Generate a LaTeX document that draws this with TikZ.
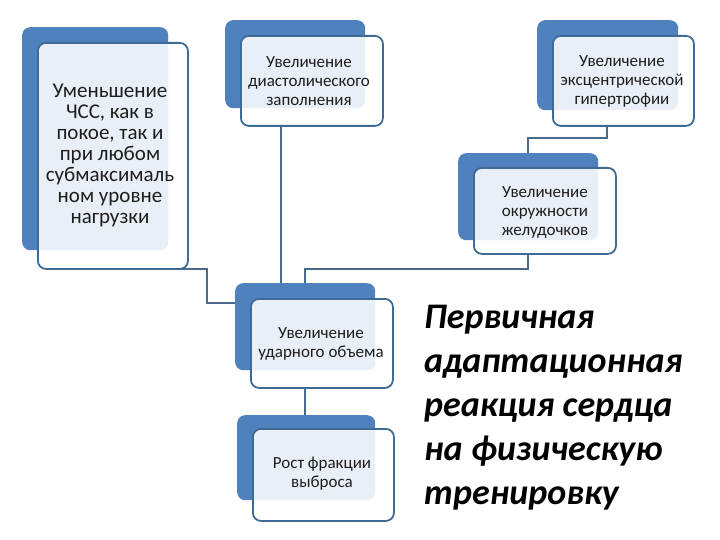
\documentclass[tikz,border=0pt]{standalone}
\usepackage{fontspec}
\setmainfont{Carlito}
\definecolor{backblue}{HTML}{4F81BD}
\definecolor{edgeblue}{HTML}{3F6A96}
\definecolor{linecol}{HTML}{4A6A8A}
\definecolor{txt}{HTML}{1E1E1E}
\tikzset{
  backbox/.style={fill=backblue, draw=none, rounded corners=8pt, anchor=north west, inner sep=0pt},
  frontbox/.style={fill=white, fill opacity=0.88, draw=edgeblue, draw opacity=1, line width=1.8pt, rounded corners=8pt, anchor=north west, inner sep=0pt},
  boxtext/.style={text=txt, align=center, inner sep=0pt, font=\fontsize{17}{19}\selectfont},
  conn/.style={draw=linecol, line width=1.6pt}
}
\begin{document}
\begin{tikzpicture}[x=1pt, y=-1pt]
\useasboundingbox (0,0) rectangle (720,540);
% connector end points
\coordinate (c1a) at (167,269);
% connectors (behind boxes)
\draw[conn] (281,125) -- (281,283);
\draw[conn] (607,125) -- (607,138) -- (528,138) -- (528,153);
\draw[conn] (528,253) -- (528,269) -- (305,269) -- (305,283);
\draw[conn] (305,387) -- (305,415);
\draw[conn] (c1a) -- (207,269) -- (207,303) -- (235,303);
% box 1
\node[backbox, minimum width=146pt, minimum height=223pt] (k1) at (22,27) {};
\node[frontbox, minimum width=150pt, minimum height=226pt] (f1) at (37,42) {};
\node[boxtext, font=\fontsize{21}{21}\selectfont] (t1) at (110,155) {Уменьшение\\ЧСС, как в\\покое, так и\\при любом\\субмаксималь\\ном уровне\\нагрузки};
% box 2
\node[backbox, minimum width=140pt, minimum height=88pt] (k2) at (225,20) {};
\node[frontbox, minimum width=142pt, minimum height=90pt] (f2) at (240,35) {};
\node[boxtext] (t2) at (309,81) {Увеличение\\диастолического\\заполнения};
% box 3
\node[backbox, minimum width=141pt, minimum height=90pt] (k3) at (537,20) {};
\node[frontbox, minimum width=141pt, minimum height=90pt] (f3) at (552,35) {};
\node[boxtext] (t3) at (622,81) {Увеличение\\эксцентрической\\гипертрофии};
% box 4
\node[backbox, minimum width=140pt, minimum height=87pt] (k4) at (458,153) {};
\node[frontbox, minimum width=142pt, minimum height=86pt] (f4) at (473,167) {};
\node[boxtext] (t4) at (545,212) {Увеличение\\окружности\\желудочков};
% box 5
\node[backbox, minimum width=140pt, minimum height=87pt] (k5) at (235,283) {};
\node[frontbox, minimum width=142pt, minimum height=89pt] (f5) at (250,298) {};
\node[boxtext] (t5) at (321,344) {Увеличение\\ударного объема};
% box 6
\node[backbox, minimum width=138pt, minimum height=85pt] (k6) at (237,415) {};
\node[frontbox, minimum width=141pt, minimum height=92pt] (f6) at (252,428) {};
\node[boxtext] (t6) at (322,474) {Рост фракции\\выброса};
% title
\node[anchor=north west, align=left, inner sep=0pt, text=black,
      font=\fontsize{36}{44}\selectfont\bfseries\itshape] (title) at (424,305)
  {Первичная\\адаптационная\\реакция сердца\\на физическую\\тренировку};
\end{tikzpicture}
\end{document}
